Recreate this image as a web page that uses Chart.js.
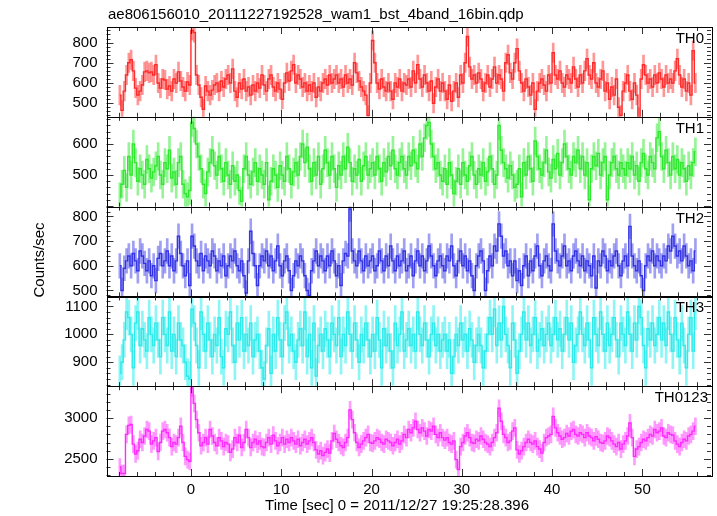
<!DOCTYPE html>
<html>
<head>
<meta charset="utf-8">
<title>ae806156010 wam1 bst 4band light curve</title>
<script src="https://cdn.jsdelivr.net/npm/chart.js@4.4.1/dist/chart.umd.min.js"></script>
<style>
  html, body { margin: 0; padding: 0; background: #fff; }
  #wrap { width: 717px; height: 516px; }
</style>
</head>
<body>
<div id="wrap"><canvas id="lc" width="717" height="516"></canvas></div>
<script>
const plotTitle = 'ae806156010_20111227192528_wam1_bst_4band_16bin.qdp';
const xTitle = 'Time [sec] 0 = 2011/12/27 19:25:28.396';
const yTitle = 'Counts/sec';

// bins are 0.25 s wide, first bin centre at -7.875 s
const binStart = -7.875;
const binWidth = 0.25;

const th0 = [
  540, 465, 560, 640, 700, 715, 660, 575, 540, 560, 590, 655, 660, 650, 655, 640,
  690, 600, 575, 620, 615, 570, 585, 560, 620, 600, 655, 610, 580, 560, 605, 590,
  860, 850, 640, 590, 530, 470, 585, 560, 540, 565, 590, 600, 560, 610, 580, 620,
  640, 600, 670, 560, 530, 600, 570, 620, 560, 580, 540, 590, 560, 600, 575, 640,
  590, 560, 620, 640, 580, 560, 600, 570, 520, 600, 650, 610, 660, 690, 600, 640,
  620, 580, 600, 560, 590, 560, 600, 530, 580, 560, 600, 620, 590, 640, 600, 620,
  640, 600, 620, 580, 640, 600, 620, 590, 700, 650, 610, 580, 560, 540, 440, 600,
  810, 700, 600, 570, 620, 580, 560, 600, 560, 520, 600, 580, 620, 560, 600, 590,
  620, 580, 660, 600, 690, 620, 580, 640, 600, 560, 610, 500, 580, 620, 560, 600,
  560, 520, 590, 510, 560, 600, 530, 640, 600, 700, 830, 680, 620, 640, 600, 650,
  620, 560, 600, 640, 580, 620, 680, 600, 640, 620, 560, 700, 740, 650, 620, 700,
  770, 660, 600, 560, 620, 580, 540, 600, 470, 560, 600, 620, 590, 560, 640, 600,
  750, 640, 620, 660, 600, 580, 640, 620, 600, 680, 620, 580, 640, 600, 660, 720,
  640, 620, 700, 600, 580, 620, 660, 560, 600, 520, 580, 540, 620, 480, 440, 560,
  600, 640, 560, 520, 600, 540, 430, 620, 690, 640, 600, 620, 580, 640, 600, 650,
  620, 580, 640, 600, 620, 600, 660, 720, 640, 580, 620, 560, 600, 540, 760, 600
];

const th1 = [
  430, 470, 515, 460, 560, 500, 600, 540, 480, 520, 500, 470, 550, 520, 490, 510,
  530, 560, 500, 470, 540, 520, 580, 490, 510, 470, 540, 560, 470, 440, 430, 450,
  670, 650, 600, 560, 520, 470, 440, 510, 540, 580, 530, 500, 560, 520, 480, 540,
  500, 470, 530, 480, 500, 450, 415, 520, 560, 500, 470, 510, 540, 480, 520, 500,
  470, 540, 420, 480, 520, 500, 460, 530, 500, 480, 560, 520, 470, 510, 540, 500,
  560, 600, 540, 590, 520, 480, 540, 500, 560, 470, 520, 580, 540, 500, 560, 520,
  460, 530, 500, 560, 520, 590, 540, 480, 520, 500, 550, 480, 530, 560, 500, 520,
  540, 500, 560, 520, 480, 540, 510, 560, 530, 580, 520, 500, 540, 560, 520, 500,
  560, 530, 580, 540, 520, 600, 560, 620, 660, 670, 600, 560, 520, 540, 500, 480,
  520, 470, 540, 500, 440, 480, 520, 470, 540, 500, 480, 530, 560, 500, 470, 520,
  500, 540, 480, 510, 560, 520, 470, 500, 660, 580, 540, 520, 490, 530, 500, 460,
  470, 520, 430, 540, 500, 560, 520, 480, 610, 560, 520, 500, 540, 580, 510, 490,
  550, 520, 570, 500, 540, 600, 560, 520, 500, 560, 540, 580, 520, 560, 500, 540,
  420, 520, 560, 530, 570, 500, 540, 560, 420, 500, 540, 560, 520, 500, 540, 520,
  500, 540, 520, 560, 500, 530, 480, 540, 570, 520, 500, 560, 540, 520, 620, 640,
  560, 520, 580, 540, 500, 560, 520, 550, 500, 540, 520, 480, 530, 500, 540, 575
];

const th2 = [
  600, 500, 590, 620, 640, 600, 650, 620, 580, 660, 640, 610, 580, 620, 560, 600,
  540, 630, 650, 600, 620, 660, 600, 640, 580, 620, 720, 650, 600, 560, 620, 520,
  720, 680, 620, 600, 650, 580, 640, 620, 600, 660, 640, 580, 620, 600, 640, 560,
  600, 640, 620, 660, 600, 580, 620, 560, 490, 620, 740, 650, 600, 520, 600, 640,
  620, 660, 600, 640, 580, 620, 680, 600, 560, 620, 640, 580, 500, 560, 620, 600,
  640, 620, 560, 500, 480, 580, 620, 660, 600, 640, 620, 580, 640, 600, 660, 620,
  560, 600, 520, 620, 650, 640, 830, 660, 620, 600, 660, 620, 580, 640, 600, 620,
  640, 580, 600, 660, 620, 580, 640, 600, 680, 620, 580, 640, 600, 620, 660, 580,
  600, 640, 560, 620, 660, 600, 640, 580, 620, 680, 640, 600, 560, 620, 640, 600,
  580, 640, 620, 680, 600, 560, 620, 660, 600, 640, 580, 620, 560, 500, 600, 640,
  660, 620, 500, 580, 640, 600, 680, 660, 770, 720, 640, 660, 600, 620, 560, 620,
  540, 580, 520, 600, 640, 560, 620, 580, 640, 680, 600, 560, 620, 640, 600, 580,
  770, 660, 620, 600, 640, 680, 600, 620, 580, 640, 660, 620, 600, 640, 580, 620,
  600, 560, 640, 510, 620, 600, 660, 640, 580, 620, 600, 640, 660, 600, 560, 620,
  640, 600, 760, 640, 600, 580, 620, 560, 500, 600, 640, 620, 660, 600, 640, 620,
  600, 640, 620, 680, 660, 720, 680, 640, 660, 620, 680, 640, 600, 620, 580, 660
];

const th3 = [
  860, 900, 980, 1080, 1060, 1000, 880, 1040, 1080, 960, 1020, 980, 940, 1060, 1000, 960,
  1040, 980, 920, 1060, 1000, 960, 1080, 940, 1000, 920, 1040, 980, 960, 900, 850, 840,
  1090, 1040, 960, 880, 1080, 1000, 940, 1040, 980, 920, 1000, 960, 1060, 920, 880, 1020,
  1000, 1080, 960, 900, 1040, 980, 1060, 940, 1000, 960, 1040, 920, 980, 1000, 940, 880,
  840, 960, 1020, 860, 1000, 940, 1060, 980, 920, 1040, 1080, 960, 1000, 940, 900, 980,
  1020, 960, 1080, 920, 1000, 880, 1040, 850, 960, 1000, 940, 1020, 980, 920, 1040, 1000,
  960, 1060, 920, 1000, 960, 1080, 1000, 940, 1040, 980, 900, 1000, 960, 1040, 980, 920,
  1000, 940, 1060, 980, 880, 1020, 960, 1000, 940, 880, 1040, 960, 1000, 1080, 940, 980,
  1020, 960, 1000, 940, 1080, 1000, 960, 1040, 980, 920, 1000, 1040, 960, 1000, 940, 980,
  1000, 940, 980, 860, 920, 1000, 960, 1040, 980, 1000, 940, 1020, 980, 900, 960, 1000,
  960, 880, 940, 1000, 1060, 1000, 1090, 960, 1040, 980, 1100, 1000, 960, 880, 1040, 980,
  860, 940, 1000, 1080, 980, 1040, 960, 1000, 1060, 940, 980, 1020, 960, 1000, 1040, 960,
  1000, 1060, 980, 1020, 940, 1000, 1060, 980, 1040, 900, 960, 1000, 1080, 1000, 960, 1040,
  980, 880, 1060, 1000, 960, 1080, 1000, 940, 1040, 960, 1000, 1060, 980, 920, 1040, 1000,
  960, 1080, 1000, 940, 1040, 980, 1100, 1060, 960, 880, 1020, 980, 1040, 960, 1000, 1060,
  980, 1040, 960, 1080, 1000, 940, 1060, 980, 920, 1040, 960, 880, 1000, 1060, 940, 1080
];

const th0123 = [
  2400, 2320, 2320, 2800, 2910, 2920, 2680, 2560, 2600, 2740, 2700, 2780, 2860, 2840, 2680, 2720,
  2760, 2590, 2700, 2840, 2860, 2820, 2760, 2650, 2700, 2680, 2760, 2900, 2700, 2530, 2490, 2470,
  3370, 3180, 2980, 2820, 2660, 2700, 2760, 2680, 2860, 2780, 2700, 2660, 2760, 2720, 2650, 2700,
  2680, 2580, 2620, 2760, 2700, 2790, 2640, 2700, 2860, 2760, 2640, 2700, 2740, 2680, 2720, 2650,
  2640, 2700, 2760, 2680, 2790, 2720, 2660, 2700, 2760, 2680, 2740, 2700, 2760, 2720, 2680, 2740,
  2660, 2700, 2740, 2680, 2720, 2760, 2700, 2610, 2560, 2600, 2540, 2580, 2620, 2570, 2720, 2810,
  2740, 2700, 2660, 2640, 2700, 2760, 3100, 2980, 2820, 2700, 2640, 2680, 2720, 2760, 2800, 2700,
  2690, 2720, 2760, 2740, 2700, 2680, 2740, 2720, 2700, 2660, 2700, 2740, 2680, 2720, 2800, 2760,
  2860, 2820, 2880, 2960, 2860, 2820, 2880, 2840, 2780, 2860, 2840, 2900, 2800, 2760, 2820, 2760,
  2730, 2760, 2700, 2680, 2720, 2490, 2370, 2650, 2700, 2780, 2820, 2760, 2700, 2690, 2740, 2720,
  2780, 2740, 2700, 2680, 2650, 2700, 2760, 2820, 3120, 2960, 2800, 2760, 2700, 2720, 2840, 2880,
  2610, 2560, 2600, 2650, 2700, 2740, 2700, 2680, 2720, 2650, 2620, 2570, 2700, 2760, 2780, 2800,
  3020, 2880, 2820, 2780, 2740, 2760, 2810, 2780, 2840, 2860, 2800, 2780, 2820, 2800, 2760, 2820,
  2780, 2760, 2720, 2770, 2740, 2700, 2690, 2720, 2780, 2760, 2720, 2680, 2650, 2700, 2620, 2680,
  2720, 2780, 2940, 2760, 2530, 2620, 2650, 2700, 2740, 2720, 2760, 2800, 2780, 2860, 2820, 2840,
  2880, 2780, 2760, 2820, 2800, 2790, 2720, 2680, 2650, 2700, 2740, 2720, 2780, 2800, 2840, 2900
];

const bandNames = ['TH0', 'TH1', 'TH2', 'TH3', 'TH0123'];
const bandRates = [th0, th1, th2, th3, th0123];
// typical 1-sigma half length of the error bars in each band
const bandErrors = [48, 45, 50, 63, 104];

const xTicks = [0, 10, 20, 30, 40, 50];
const yTicks = [
  [500, 600, 700, 800],
  [500, 600],
  [500, 600, 700, 800],
  [900, 1000, 1100],
  [2500, 3000]
];
const yMin = [433, 398, 476, 814, 2290];
const yMax = [877, 688, 840, 1136, 3390];
const yMinorStep = [20, 20, 20, 20, 100];
const yMajorStep = [100, 100, 100, 100, 500];

const lineColors = ['#ff2a2a', '#2ee82e', '#3333e6', '#2eeaea', '#ff2aff'];
const barColors = ['rgba(255,80,80,0.6)', 'rgba(80,235,80,0.6)', 'rgba(95,95,235,0.6)', 'rgba(80,240,240,0.65)', 'rgba(255,90,255,0.6)'];

const FONT = "'Liberation Sans', Arial, Helvetica, sans-serif";
const times = th0.map((_, i) => binStart + i * binWidth);

const datasets = [];
bandRates.forEach((rates, k) => {
  const yid = 'y' + k;
  datasets.push({
    type: 'line',
    yAxisID: yid,
    data: rates.map((v, i) => ({ x: times[i], y: v })),
    borderColor: lineColors[k],
    borderWidth: 1.4,
    pointRadius: 0,
    stepped: 'middle',
    order: 0
  });
  datasets.push({
    type: 'bar',
    yAxisID: yid,
    data: rates.map((v, i) => ({ x: times[i], y: [v - bandErrors[k], v + bandErrors[k]] })),
    backgroundColor: barColors[k],
    borderWidth: 0,
    barThickness: 2,
    grouped: false,
    order: 1
  });
});

const scales = {
  x: {
    type: 'linear',
    min: -9.35,
    max: 57.6,
    offset: false,
    grid: { display: false, drawTicks: false },
    border: { display: false },
    ticks: { color: '#000', font: { family: FONT, size: 15 }, padding: 5, maxRotation: 0, autoSkip: false },
    afterBuildTicks: s => { s.ticks = xTicks.map(v => ({ value: v })); },
    afterFit: s => { s.height = 40; }
  }
};
// stacked left axes are laid out last-defined first, so add them bottom panel first
for (let k = bandNames.length - 1; k >= 0; k--) {
  scales['y' + k] = {
    type: 'linear',
    position: 'left',
    stack: 'panels',
    stackWeight: 1,
    min: yMin[k],
    max: yMax[k],
    grid: { display: false, drawTicks: false },
    border: { display: false },
    ticks: {
      color: '#000',
      font: { family: FONT, size: 15 },
      padding: 9,
      autoSkip: false,
      callback: v => String(v)
    },
    afterBuildTicks: s => { s.ticks = yTicks[k].map(v => ({ value: v })); },
    afterFit: s => { s.width = 106.5; }
  };
}

// qdp style frames with inward ticks, plus the texts
const framePlugin = {
  id: 'qdpFrames',
  afterDraw(chart) {
    const ctx = chart.ctx;
    const x = chart.scales.x;
    const seg = (x1, y1, x2, y2) => { ctx.beginPath(); ctx.moveTo(x1, y1); ctx.lineTo(x2, y2); ctx.stroke(); };
    ctx.save();
    ctx.lineWidth = 1;
    bandNames.forEach((name, k) => {
      const y = chart.scales['y' + k];
      const top = y.top, bottom = y.bottom, left = x.left, right = x.right;
      ctx.strokeStyle = '#333';
      for (let v = Math.ceil(yMin[k] / yMinorStep[k]) * yMinorStep[k]; v <= yMax[k]; v += yMinorStep[k]) {
        const py = Math.round(y.getPixelForValue(v)) + 0.5;
        const len = v % yMajorStep[k] === 0 ? 7 : 4;
        seg(left, py, left + len, py);
        seg(right, py, right - len, py);
      }
      for (let t = -8; t <= 56; t += 2) {
        const px = Math.round(x.getPixelForValue(t)) + 0.5;
        const len = t % 10 === 0 ? 7 : 4;
        seg(px, top, px, top + len);
        seg(px, bottom, px, bottom - len);
      }
      ctx.strokeStyle = '#000';
      ctx.strokeRect(Math.round(left) + 0.5, Math.round(top) + 0.5, Math.round(right - left), Math.round(bottom - top));

      ctx.fillStyle = '#000';
      ctx.font = '15px ' + FONT;
      ctx.textAlign = 'right';
      ctx.textBaseline = 'alphabetic';
      ctx.fillText(name, right - (k === 4 ? 3 : 7), top + 16);
    });

    ctx.fillStyle = '#000';
    ctx.font = '15px ' + FONT;
    ctx.textAlign = 'left';
    ctx.textBaseline = 'alphabetic';
    ctx.fillText(plotTitle, 108, 18.5);
    ctx.textAlign = 'center';
    ctx.textBaseline = 'middle';
    ctx.fillText(xTitle, 397, 506);
    ctx.translate(40, 260);
    ctx.rotate(-Math.PI / 2);
    ctx.fillText(yTitle, 0, 0);
    ctx.restore();
  }
};

new Chart(document.getElementById('lc'), {
  type: 'line',
  data: { datasets },
  options: {
    responsive: false,
    animation: false,
    devicePixelRatio: 1,
    layout: { padding: { top: 27, right: 6, left: 0, bottom: 0 } },
    plugins: { legend: { display: false }, title: { display: false }, tooltip: { enabled: false } },
    scales
  },
  plugins: [framePlugin]
});
</script>
</body>
</html>
